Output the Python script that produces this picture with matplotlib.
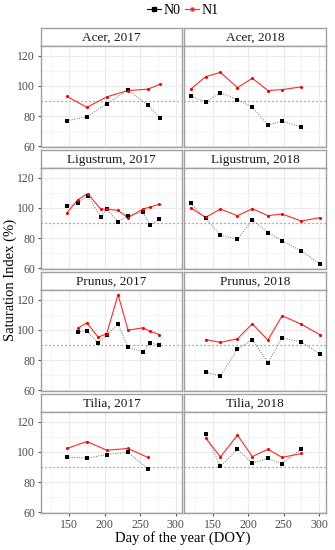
import matplotlib
matplotlib.use("Agg")
import matplotlib.pyplot as plt
from matplotlib.lines import Line2D

plt.rcParams['font.family'] = ['Liberation Serif', 'DejaVu Serif']

# panel titles, in reading order (left = 2017, right = 2018)
titles = ["Acer, 2017", "Acer, 2018",
          "Ligustrum, 2017", "Ligustrum, 2018",
          "Prunus, 2017", "Prunus, 2018",
          "Tilia, 2017", "Tilia, 2018"]

# day of year for each panel
doy = [
    [147, 175, 203, 233, 261, 278],
    [119, 140, 161, 185, 206, 228, 248, 275],
    [147, 162, 176, 195, 203, 219, 233, 254, 264, 277],
    [119, 140, 161, 185, 206, 228, 248, 275, 301],
    [162, 175, 191, 203, 219, 233, 254, 264, 277],
    [140, 161, 185, 206, 228, 248, 275, 301],
    [147, 175, 203, 233, 261],
    [140, 161, 185, 206, 228, 248, 275],
]

# saturation index, no nitrogen
n0 = [
    [77, 79.5, 88.2, 97.3, 87.3, 79],
    [93.2, 89.3, 95.4, 90.8, 86, 74.2, 76.6, 72.7],
    [100.9, 103, 107.6, 94, 99, 90.9, 94.6, 97.4, 88.5, 92.4],
    [102.9, 93.1, 82, 79.2, 91.8, 83.7, 78.3, 71.6, 63.1],
    [98.7, 99.4, 91.2, 96.9, 103.7, 88.4, 85.5, 91.5, 89.9],
    [72.1, 69.4, 87.2, 93.6, 78.3, 94.7, 92.1, 84.2],
    [96.5, 95.8, 98.2, 99.6, 88.8],
    [111.6, 90.5, 101.7, 92.5, 95.6, 92.1, 101.7],
]

# saturation index, with nitrogen
n1 = [
    [93, 85.8, 92.7, 96.9, 97.8, 101],
    [97.8, 106, 108.9, 98.8, 105, 96.9, 97.5, 99.3],
    [96.7, 105.2, 109.4, 99, 99.2, 98.3, 93.5, 99.2, 100.5, 102.4],
    [100, 93.7, 99.2, 94.8, 99.4, 94.8, 95.9, 91.3, 93.5],
    [101.1, 104.6, 95.2, 97.4, 123.3, 99.8, 101.3, 99.1, 96.9],
    [93.6, 91.7, 94.1, 104, 93.2, 109.3, 103.7, 96.9],
    [102.2, 106.8, 101.1, 102.2, 96.3],
    [109.2, 96.7, 111, 96.9, 101.7, 96.3, 98.9],
]

W, H = 335, 550
fig = plt.figure(figsize=(W / 100, H / 100), dpi=100)

def box(x0, y0, x1, y1):
    # pixel box (top-left origin) -> figure fraction
    return [x0 / W, 1 - y1 / H, (x1 - x0) / W, (y1 - y0) / H]

cols = [(40.7, 182.3), (184.3, 325.7)]
grid_c = '#ebebeb'
edge_c = '#a0a0a0'
red = '#ff2a2a'

for i, title in enumerate(titles):
    r, c = divmod(i, 2)
    x0, x1 = cols[c]
    top = 28 + r * 122
    strip = fig.add_axes(box(x0, top, x1, top + 18))
    strip.set_xticks([])
    strip.set_yticks([])
    for s in strip.spines.values():
        s.set_color(edge_c)
        s.set_linewidth(1.0)
    strip.text(0.5, 0.45, title, ha='center', va='center', fontsize=9.5,
               color='#1a1a1a', transform=strip.transAxes)

    ax = fig.add_axes(box(x0, top + 18, x1, top + 119))
    ax.set_xlim(110, 309.5)
    ax.set_ylim(59.6, 126.3)
    ax.set_xticks([150, 200, 250, 300])
    ax.set_xticks([125, 175, 225, 275], minor=True)
    ax.set_yticks([60, 80, 100, 120])
    ax.set_yticks([70, 90, 110], minor=True)
    ax.grid(True, which='major', color=grid_c, lw=0.8)
    ax.grid(True, which='minor', color='#f4f4f4', lw=0.6)
    ax.set_axisbelow(True)
    for s in ax.spines.values():
        s.set_color(edge_c)
        s.set_linewidth(1.0)
    ax.tick_params(which='minor', length=0)
    ax.tick_params(which='major', length=2.5, width=0.8, color='#555555',
                   labelsize=8.5, labelcolor='#4d4d4d', pad=1.5)
    if c == 1:
        ax.tick_params(axis='y', labelleft=False, length=0)
    if r < 3:
        ax.tick_params(axis='x', labelbottom=False, length=0)

    ax.axhline(90, color='#8c8c8c', lw=0.9, ls=(0, (1, 2.2)))
    ax.plot(doy[i], n0[i], color='#6e6e6e', lw=0.7, ls=(0, (1, 1.5)), zorder=3)
    ax.scatter(doy[i], n0[i], marker='s', s=5, color='black', zorder=4, lw=0)
    ax.plot(doy[i], n1[i], color=red, lw=0.8, zorder=3)
    ax.scatter(doy[i], n1[i], marker='o', s=5, color='red', zorder=4, lw=0)

fig.text(183 / W, 1 - 538 / H, 'Day of the year (DOY)', ha='center',
         va='center', fontsize=10.5)
fig.text(10 / W, 1 - 280 / H, 'Saturation Index (%)', ha='center',
         va='center', rotation=90, fontsize=10.5)

handles = [Line2D([], [], color='black', lw=0.8, marker='s', markersize=2.2),
           Line2D([], [], color=red, lw=0.8, marker='o', markersize=2.2)]
fig.legend(handles, ['N0', 'N1'], loc='center', bbox_to_anchor=(183 / W, 1 - 10 / H),
           ncol=2, frameon=False, fontsize=10, handlelength=1.0,
           handletextpad=0.2, columnspacing=0.3, borderpad=0)

fig.savefig('out.png', dpi=100)
